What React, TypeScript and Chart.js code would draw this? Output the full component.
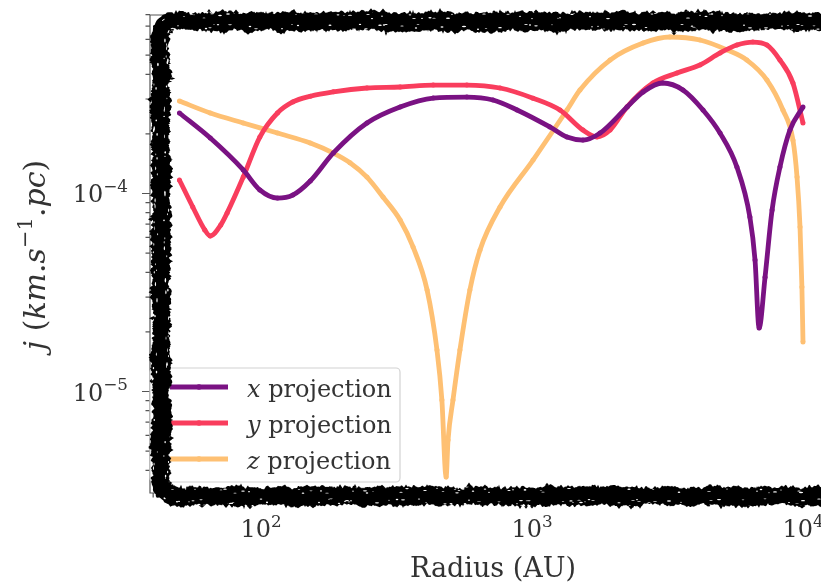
import React, { useEffect, useRef } from "react";
import { Chart, registerables } from "chart.js";

Chart.register(...registerables);

// Specific angular momentum profiles j(R), one per line-of-sight projection.
const xRadius = [50, 65, 86, 99, 115, 131, 152, 185, 246, 326, 432, 575, 718, 881, 1164, 1346, 1542, 1782, 2244, 2570, 3041, 3606, 4276, 4943, 5702, 6368, 6653, 6887, 7244, 7691, 8222, 8954, 10000];
const xJ = [2.55e-4, 1.905e-4, 1.315e-4, 1.042e-4, 9.48e-5, 9.82e-5, 1.156e-4, 1.603e-4, 2.27e-4, 2.735e-4, 3.034e-4, 3.069e-4, 2.965e-4, 2.642e-4, 2.168e-4, 1.928e-4, 1.862e-4, 2.018e-4, 2.735e-4, 3.258e-4, 3.614e-4, 3.334e-4, 2.642e-4, 2.018e-4, 1.361e-4, 7.6e-5, 4.61e-5, 2.094e-5, 3.78e-5, 8.26e-5, 1.361e-4, 2.094e-4, 2.735e-4];

const yRadius = [50, 56, 62, 65, 71, 75, 86, 99, 115, 131, 152, 185, 246, 326, 432, 575, 762, 1009, 1268, 1542, 1738, 1941, 2244, 2793, 3428, 4169, 4943, 5702, 6531, 7362, 8222, 9183, 10000];
const yJ = [1.17e-4, 8.55e-5, 6.55e-5, 6.1e-5, 6.93e-5, 7.98e-5, 1.211e-4, 1.928e-4, 2.55e-4, 2.9e-4, 3.1e-4, 3.26e-4, 3.41e-4, 3.45e-4, 3.53e-4, 3.53e-4, 3.41e-4, 3.03e-4, 2.64e-4, 2.09e-4, 1.93e-4, 2.09e-4, 2.74e-4, 3.61e-4, 4.06e-4, 4.46e-4, 5.13e-4, 5.62e-4, 5.82e-4, 5.62e-4, 4.72e-4, 3.61e-4, 2.27e-4];

const zRadius = [50, 65, 86, 115, 152, 185, 213, 246, 282, 326, 364, 410, 446, 465, 482, 490, 511, 542, 590, 643, 762, 1009, 1346, 1503, 1941, 2570, 3228, 4169, 5248, 6209, 7362, 8433, 9183, 9506, 9750, 9908, 10000];
const zJ = [2.93e-4, 2.55e-4, 2.27e-4, 2.02e-4, 1.8e-4, 1.6e-4, 1.43e-4, 1.21e-4, 9.6e-5, 7.35e-5, 5.37e-5, 3.26e-5, 1.62e-5, 9.06e-6, 3.7e-6, 5.69e-6, 9.06e-6, 1.62e-5, 3.26e-5, 5.19e-5, 8.55e-5, 1.475e-4, 2.64e-4, 3.33e-4, 4.72e-4, 5.75e-4, 6.17e-4, 5.96e-4, 5.31e-4, 4.72e-4, 3.74e-4, 2.64e-4, 1.86e-4, 1.21e-4, 6.78e-5, 3.37e-5, 1.78e-5];

const seriesAxes = ["x", "y", "z"];
const seriesColors = ["#7a1283", "#f93d5d", "#fec073"];
const legendSuffix = " projection";

const xMajorTicks = [100, 1000, 10000];
const xMajorExp = ["2", "3", "4"];
const yMajorTicks = [1e-5, 1e-4];
const yMajorExp = ["\u22125", "\u22124"];

const xTitle = "Radius (AU)";
// y title as runs: [text, italic, superscript]
const yTitleRuns: [string, boolean, boolean][] = [
  ["j", true, false],
  [" (", false, false],
  ["km", true, false],
  [".", false, false],
  ["s", true, false],
  ["\u22121", false, true],
  [".", false, false],
  ["pc", true, false],
  [")", false, false],
];

const X_MIN = 38.94;
const X_MAX = 13014;
const Y_MIN = 3.072e-6;
const Y_MAX = 7.97e-4;

const SERIF = '"DejaVu Serif", "Liberation Serif", serif';
const INK = "#333333";
const AXIS = "#555555";

function hash(n: number): number {
  const s = Math.sin(n * 91.345 + 17.17) * 43758.5453;
  return s - Math.floor(s);
}
function vnoise(t: number, seed: number): number {
  const i = Math.floor(t);
  const f = t - i;
  const a = hash(i + seed * 1000);
  const b = hash(i + 1 + seed * 1000);
  const u = f * f * (3 - 2 * f);
  return a + (b - a) * u;
}

function drawPow(ctx: CanvasRenderingContext2D, base: string, exp: string, x: number, y: number, size: number, align: "center" | "right") {
  ctx.font = `${size}px ${SERIF}`;
  const wb = ctx.measureText(base).width;
  const es = size * 0.7;
  ctx.font = `${es}px ${SERIF}`;
  const we = ctx.measureText(exp).width;
  const total = wb + we;
  const x0 = align === "center" ? x - total / 2 : x - total;
  ctx.textAlign = "left";
  ctx.textBaseline = "alphabetic";
  ctx.font = `${size}px ${SERIF}`;
  ctx.fillText(base, x0, y);
  ctx.font = `${es}px ${SERIF}`;
  ctx.fillText(exp, x0 + wb, y - size * 0.42);
}

// Open path along the top, left and bottom edges of the frame (right edge lies off the page)
function framePoints(x0: number, y0: number, x1: number, y1: number, r: number) {
  const pts: number[][] = [];
  const seg = (ax: number, ay: number, bx: number, by: number, nx: number, ny: number) => {
    const n = Math.max(1, Math.round(Math.hypot(bx - ax, by - ay)));
    for (let i = 0; i <= n; i++) {
      const t = i / n;
      pts.push([ax + (bx - ax) * t, ay + (by - ay) * t, nx, ny]);
    }
  };
  const arc = (cx: number, cy: number, a0: number, a1: number) => {
    const n = Math.max(2, Math.round(Math.abs(a1 - a0) * r));
    for (let i = 1; i < n; i++) {
      const a = a0 + ((a1 - a0) * i) / n;
      pts.push([cx + r * Math.cos(a), cy + r * Math.sin(a), Math.cos(a), Math.sin(a)]);
    }
  };
  seg(x1, y0, x0 + r, y0, 0, -1);
  arc(x0 + r, y0 + r, Math.PI * 1.5, Math.PI);
  seg(x0, y0 + r, x0, y1 - r, -1, 0);
  arc(x0 + r, y1 - r, Math.PI, Math.PI / 2);
  seg(x0 + r, y1, x1, y1, 0, 1);
  return pts;
}

// Hand-inked looking frame around the plotting region
function drawRoughFrame(ctx: CanvasRenderingContext2D) {
  const pts = framePoints(161, 21.5, 830, 496, 13);
  const HALF = 9.3;
  const edge = (i: number, s: number) =>
    HALF + 1.6 * (vnoise(i / 11, s) - 0.5) * 2 + 1.4 * (vnoise(i / 2.3, s + 5) - 0.5) * 2 + 0.8 * (hash(i * 1.9 + s * 7) - 0.5) * 2;
  ctx.save();
  ctx.fillStyle = "#000";
  ctx.beginPath();
  pts.forEach((p, i) => {
    const o = edge(i, 1);
    const x = p[0] + p[2] * o;
    const y = p[1] + p[3] * o;
    if (i === 0) ctx.moveTo(x, y);
    else ctx.lineTo(x, y);
  });
  for (let i = pts.length - 1; i >= 0; i--) {
    const p = pts[i];
    const o = edge(i, 2);
    ctx.lineTo(p[0] - p[2] * o, p[1] - p[3] * o);
  }
  ctx.closePath();
  ctx.fill();

  // short ink spurs sticking out of the edges
  for (let i = 0; i < pts.length; i += 3) {
    const p = pts[i];
    if (hash(i * 0.91 + 5) < 0.3) {
      const side = hash(i * 1.13 + 7) < 0.5 ? 1 : -1;
      const base = side * (side > 0 ? edge(i, 1) : edge(i, 2));
      const len = 1 + hash(i * 3.1) * 2.2;
      const w = 1 + hash(i * 4.7) * 2.5;
      const tx = -p[3];
      const ty = p[2];
      ctx.beginPath();
      ctx.moveTo(p[0] + p[2] * (base - side * 1) - tx * w, p[1] + p[3] * (base - side * 1) - ty * w);
      ctx.lineTo(p[0] + p[2] * (base + side * len), p[1] + p[3] * (base + side * len));
      ctx.lineTo(p[0] + p[2] * (base - side * 1) + tx * w, p[1] + p[3] * (base - side * 1) + ty * w);
      ctx.closePath();
      ctx.fill();
    }
  }

  // light flecks inside the stroke, mostly toward its edges
  ctx.fillStyle = "#fff";
  for (let i = 0; i < pts.length; i += 2) {
    const p = pts[i];
    if (hash(i * 0.57 + 19) < 0.3) {
      const side = hash(i * 1.7 + 29) < 0.5 ? 1 : -1;
      const o = side * (HALF - 1.5 - hash(i * 2.9 + 23) * 5);
      const rl = 0.6 + hash(i * 5.3) * 1.6;
      const rs = 0.3 + hash(i * 6.1) * 0.5;
      const ang = Math.atan2(p[2], -p[3]);
      ctx.beginPath();
      ctx.ellipse(p[0] + p[2] * o, p[1] + p[3] * o, rl, rs, ang, 0, Math.PI * 2);
      ctx.fill();
    }
  }
  ctx.restore();
}

const axesDecor = {
  id: "axesDecor",
  afterDraw(chart: any) {
    const ctx: CanvasRenderingContext2D = chart.ctx;
    const { left, top, right, bottom } = chart.chartArea;
    const xs = chart.scales.x;
    const ys = chart.scales.y;
    ctx.save();

    // spines
    ctx.strokeStyle = AXIS;
    ctx.lineWidth = 1.2;
    ctx.beginPath();
    ctx.moveTo(right, top);
    ctx.lineTo(left, top);
    ctx.lineTo(left, bottom);
    ctx.lineTo(right, bottom);
    ctx.stroke();

    // tick marks (major and minor, pointing outwards)
    ctx.beginPath();
    for (let d = 1; d <= 4; d++) {
      for (let m = 1; m <= 9; m++) {
        const px = xs.getPixelForValue(m * Math.pow(10, d));
        if (px < left - 1 || px > right + 1) continue;
        const len = m === 1 ? 8 : 4.5;
        ctx.moveTo(px, bottom);
        ctx.lineTo(px, bottom + len);
      }
    }
    for (let d = -6; d <= -3; d++) {
      for (let m = 1; m <= 9; m++) {
        const py = ys.getPixelForValue(m * Math.pow(10, d));
        if (py < top - 1 || py > bottom + 1) continue;
        const len = m === 1 ? 8 : 4.5;
        ctx.moveTo(left, py);
        ctx.lineTo(left - len, py);
      }
    }
    ctx.stroke();

    // tick labels
    ctx.fillStyle = INK;
    xMajorTicks.forEach((v, i) => {
      drawPow(ctx, "10", xMajorExp[i], xs.getPixelForValue(v), bottom + 44, 24, "center");
    });
    yMajorTicks.forEach((v, i) => {
      drawPow(ctx, "10", yMajorExp[i], left - 22, ys.getPixelForValue(v) + 9, 24, "right");
    });

    // axis titles
    ctx.font = `27px ${SERIF}`;
    ctx.textAlign = "center";
    ctx.textBaseline = "alphabetic";
    ctx.fillText(xTitle, 493, 577);

    const ySize = 30;
    const runFont = (r: [string, boolean, boolean]) =>
      `${r[1] ? "italic " : ""}${r[2] ? ySize * 0.7 : ySize}px ${SERIF}`;
    let total = 0;
    const widths = yTitleRuns.map((r) => {
      ctx.font = runFont(r);
      const w = ctx.measureText(r[0]).width;
      total += w;
      return w;
    });
    ctx.save();
    ctx.translate(45, 255);
    ctx.rotate(-Math.PI / 2);
    ctx.textAlign = "left";
    let cx = -total / 2;
    yTitleRuns.forEach((r, i) => {
      ctx.font = runFont(r);
      ctx.fillText(r[0], cx, r[2] ? -ySize * 0.42 : 0);
      cx += widths[i];
    });
    ctx.restore();

    // legend
    const bx = 150, by = 368, bw = 250, bh = 114;
    ctx.beginPath();
    ctx.roundRect(bx, by, bw, bh, 4);
    ctx.fillStyle = "rgba(255,255,255,0.85)";
    ctx.fill();
    ctx.strokeStyle = "#d2d2d2";
    ctx.lineWidth = 1.2;
    ctx.stroke();
    chart.data.datasets.forEach((ds: any, i: number) => {
      const ry = 387 + i * 36;
      ctx.strokeStyle = ds.borderColor;
      ctx.lineWidth = 4.8;
      ctx.lineCap = "butt";
      ctx.beginPath();
      ctx.moveTo(170, ry);
      ctx.lineTo(228, ry);
      ctx.stroke();
      ctx.fillStyle = ds.borderColor;
      ctx.beginPath();
      ctx.arc(199, ry, 2.8, 0, Math.PI * 2);
      ctx.fill();
      ctx.fillStyle = INK;
      ctx.textAlign = "left";
      ctx.textBaseline = "alphabetic";
      ctx.font = `italic 24px ${SERIF}`;
      ctx.fillText(seriesAxes[i], 247, ry + 10);
      const w = ctx.measureText(seriesAxes[i]).width;
      ctx.font = `24px ${SERIF}`;
      ctx.fillText(legendSuffix, 247 + w, ry + 10);
    });

    drawRoughFrame(ctx);
    ctx.restore();
  },
};

function makeDataset(r: number[], j: number[], i: number) {
  return {
    label: seriesAxes[i] + legendSuffix,
    data: r.map((v, k) => ({ x: v, y: j[k] })),
    borderColor: seriesColors[i],
    backgroundColor: seriesColors[i],
    pointBackgroundColor: seriesColors[i],
    borderWidth: 4.8,
    pointRadius: 2.5,
    pointBorderWidth: 0,
    cubicInterpolationMode: "monotone" as const,
    fill: false,
  };
}

export default function App() {
  const ref = useRef<HTMLCanvasElement>(null);
  useEffect(() => {
    const canvas = ref.current;
    if (!canvas) return;
    const chart = new Chart(canvas, {
      type: "line",
      data: {
        datasets: [
          makeDataset(xRadius, xJ, 0),
          makeDataset(yRadius, yJ, 1),
          makeDataset(zRadius, zJ, 2),
        ],
      },
      options: {
        responsive: false,
        animation: false,
        devicePixelRatio: 1,
        layout: { padding: { top: 15, right: 26, left: 0, bottom: 0 } },
        plugins: { legend: { display: false }, tooltip: { enabled: false } },
        scales: {
          x: {
            type: "logarithmic",
            min: X_MIN,
            max: X_MAX,
            grid: { display: false },
            border: { display: false },
            ticks: { display: false },
            afterFit: (s: any) => {
              s.height = 90;
            },
          },
          y: {
            type: "logarithmic",
            min: Y_MIN,
            max: Y_MAX,
            grid: { display: false },
            border: { display: false },
            ticks: { display: false },
            afterFit: (s: any) => {
              s.width = 150;
            },
          },
        },
      } as any,
      plugins: [axesDecor],
    });
    return () => chart.destroy();
  }, []);
  return (
    <div
      style={{
        position: "fixed",
        left: 0,
        top: 0,
        width: 821,
        height: 583,
        overflow: "hidden",
        background: "#fff",
      }}
    >
      <canvas ref={ref} width={860} height={583} style={{ display: "block" }} />
    </div>
  );
}
